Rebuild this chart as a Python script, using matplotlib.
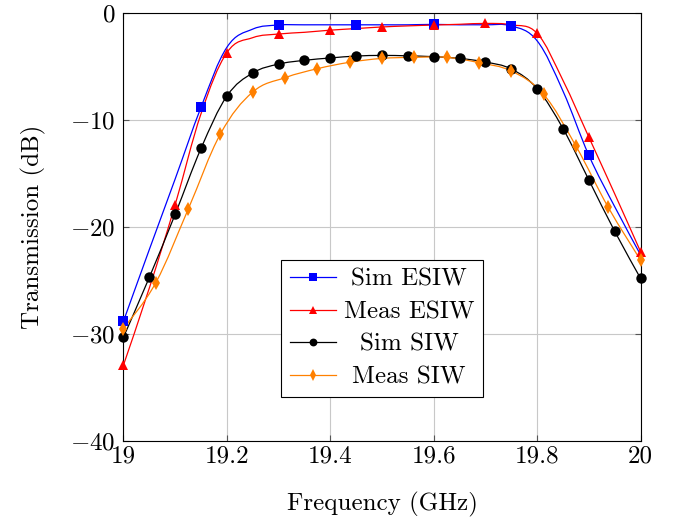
import numpy as np
import matplotlib
matplotlib.use("Agg")
import matplotlib.pyplot as plt
from matplotlib.path import Path
from matplotlib.patches import PathPatch
from matplotlib.lines import Line2D

plt.rcParams['font.family'] = 'serif'
plt.rcParams['font.serif'] = ['cmr10']
plt.rcParams['mathtext.fontset'] = 'cm'
plt.rcParams['axes.formatter.use_mathtext'] = True
plt.rcParams['axes.unicode_minus'] = True

# frequency grid of the simulated / ESIW curves (GHz)
freq = [19.00, 19.05, 19.10, 19.15, 19.20, 19.25, 19.30, 19.35, 19.40, 19.45, 19.50,
        19.55, 19.60, 19.65, 19.70, 19.75, 19.80, 19.85, 19.90, 19.95, 20.00]
sim_esiw = [-28.8, -22.1, -15.5, -8.8, -3.2, -1.5, -1.12, -1.1, -1.1, -1.1, -1.1,
            -1.1, -1.06, -1.1, -1.1, -1.2, -2.6, -7.3, -13.3, -18.1, -22.6]
meas_esiw = [-32.9, -25.7, -17.9, -9.4, -3.7, -2.3, -1.96, -1.8, -1.6, -1.45, -1.3,
             -1.2, -1.12, -1.05, -0.97, -1.1, -1.9, -6.3, -11.6, -16.9, -22.3]
sim_siw = [-30.3, -24.7, -18.8, -12.65, -7.76, -5.6, -4.77, -4.42, -4.2, -4.02, -3.96,
           -4.0, -4.08, -4.24, -4.58, -5.23, -7.07, -10.8, -15.6, -20.4, -24.8]

# measured SIW curve has its own frequency step
freq_meas_siw = [19.0, 19.0625, 19.125, 19.1875, 19.25, 19.3125, 19.375, 19.4375, 19.5,
                 19.5625, 19.625, 19.6875, 19.75, 19.8125, 19.875, 19.9375, 20.0]
meas_siw = [-29.5, -25.2, -18.35, -11.3, -7.38, -6.04, -5.2, -4.6, -4.24,
            -4.14, -4.14, -4.64, -5.42, -7.6, -12.43, -18.16, -23.1]

xticks = [19.0, 19.2, 19.4, 19.6, 19.8, 20.0]
xticklabels = ['19', '19.2', '19.4', '19.6', '19.8', '20']
yticks = [-40, -30, -20, -10, 0]

FS = 18


def smooth_path(x, y, t=0.18):
    """cubic bezier path through the points (like tikz 'smooth')"""
    p = np.column_stack([x, y]).astype(float)
    n = len(p)
    verts = [p[0]]
    codes = [Path.MOVETO]
    for i in range(n - 1):
        prev = p[i - 1] if i > 0 else p[i]
        nxt = p[i + 2] if i + 2 < n else p[i + 1]
        c1 = p[i] + t * (p[i + 1] - prev)
        c2 = p[i + 1] - t * (nxt - p[i])
        verts += [c1, c2, p[i + 1]]
        codes += [Path.CURVE4] * 3
    return Path(verts, codes)


fig = plt.figure(figsize=(6.8, 5.22), dpi=100)
ax = fig.add_axes([0.1816, 0.1552, 0.7604, 0.8198])

series = [
    ('Sim ESIW', freq, sim_esiw, 'blue', 's', 7, 3),
    ('Meas ESIW', freq, meas_esiw, 'red', '^', 7.5, 2),
    ('Sim SIW', freq, sim_siw, 'black', 'o', 7.5, 1),
    ('Meas SIW', freq_meas_siw, meas_siw, (1, 0.5, 0), 'd', 7.5, 1),
]

handles = []
for label, x, y, col, mk, ms, every in series:
    ax.add_patch(PathPatch(smooth_path(x, y), facecolor='none', edgecolor=col,
                           lw=0.9, zorder=3))
    ax.plot(x[::every], y[::every], ls='none', marker=mk, ms=ms, color=col,
            markeredgewidth=0, zorder=4, clip_on=False)
    handles.append(Line2D([], [], color=col, lw=0.9, marker=mk, ms=ms * 0.75,
                          markeredgewidth=0))

ax.set_xlim(19, 20)
ax.set_ylim(-40, 0)
ax.set_xticks(xticks)
ax.set_xticklabels(xticklabels)
ax.set_yticks(yticks)
ax.tick_params(direction='in', top=True, right=True, length=4, width=0.8,
               labelsize=FS, color='#555555')
ax.tick_params(axis='x', pad=3)
ax.tick_params(axis='y', pad=6)
ax.grid(True, color='#c8c8c8', lw=0.8)
ax.set_axisbelow(True)
for s in ax.spines.values():
    s.set_linewidth(0.8)

ax.set_xlabel('Frequency (GHz)', fontsize=FS, labelpad=18)
ax.set_ylabel('Transmission (dB)', fontsize=FS, labelpad=17)

leg = ax.legend(handles, [s[0] for s in series], loc='center',
                bbox_to_anchor=(0.5, 0.263), fontsize=FS, frameon=True,
                fancybox=False, edgecolor='black', framealpha=1,
                handlelength=1.85, borderpad=0.35, labelspacing=0.4,
                handletextpad=0.3, borderaxespad=0)
leg.get_frame().set_linewidth(0.8)

# centre the entries inside the legend column (pgfplots style)
fig.canvas.draw()
renderer = fig.canvas.get_renderer()
widths = [t.get_window_extent(renderer).width for t in leg.get_texts()]
for t, w in zip(leg.get_texts(), widths):
    t.set_position(((max(widths) - w) / 2, 0))

fig.savefig('out.png', dpi=100)
